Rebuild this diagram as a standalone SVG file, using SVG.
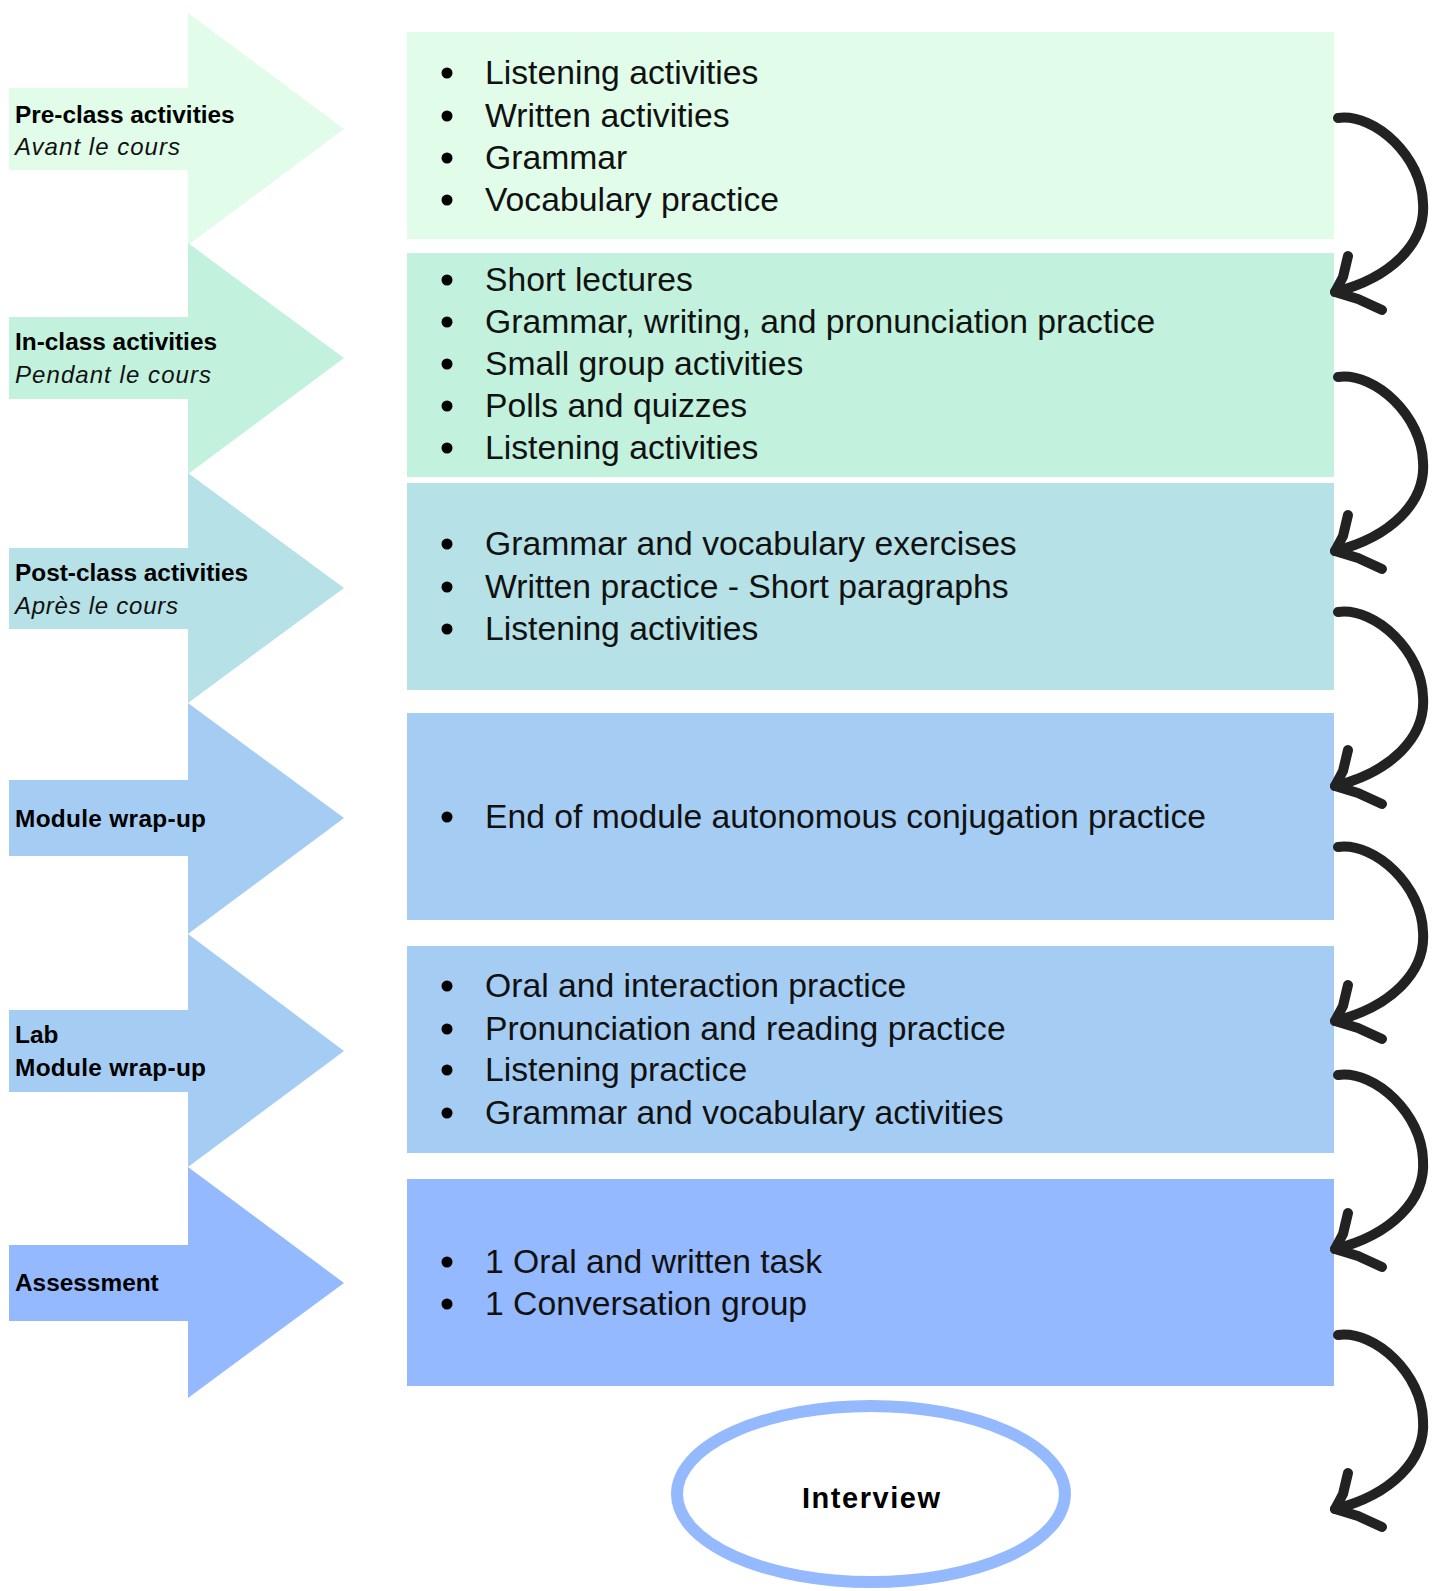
<svg xmlns="http://www.w3.org/2000/svg" width="1436" height="1591" viewBox="0 0 1436 1591">
<defs>
<style>
.item{font-family:"Liberation Sans",Arial,sans-serif;font-size:33.7px;fill:#111111}
.lbl{font-family:"Liberation Sans",Arial,sans-serif;font-size:24.4px;font-weight:bold;fill:#000000}
.sub{font-family:"Liberation Sans",Arial,sans-serif;font-size:24px;font-style:italic;fill:#111111}
.c1{fill:#e1fde9}.c2{fill:#c2f2dd}.c3{fill:#b5e1e7}.c4{fill:#a5cdf4}.c6{fill:#94b9fe}
.curve{fill:none;stroke:#222222;stroke-width:10;stroke-linecap:round;stroke-linejoin:round}
</style>
<g id="curveShape">
<path class="curve" d="M0,0 C38,-5 84,40 85,85 C88,125 53,160 -3,174"/>
<path class="curve" d="M10,138 L5,159 L-3,174 L20,181 L44,192"/>
</g>
</defs>
<rect width="1436" height="1591" fill="#ffffff"/>

<g id="stage1">
<polygon class="c1" points="9,88 188,88 188,13 344,129 188,245 188,170 9,170"/>
<text class="lbl" x="15" y="123">Pre-class activities</text>
<text class="sub" x="15" y="155" textLength="165" lengthAdjust="spacing">Avant le cours</text>
</g>
<g id="stage2">
<polygon class="c2" points="9,317 188,317 188,243 344,358 188,474 188,399 9,399"/>
<text class="lbl" x="15" y="350">In-class activities</text>
<text class="sub" x="15" y="383" textLength="196" lengthAdjust="spacing">Pendant le cours</text>
</g>
<g id="stage3">
<polygon class="c3" points="9,548 188,548 188,473 344,588 188,703 188,629 9,629"/>
<text class="lbl" x="15" y="581">Post-class activities</text>
<text class="sub" x="15" y="614" textLength="163" lengthAdjust="spacing">Après le cours</text>
</g>
<g id="stage4">
<polygon class="c4" points="9,780 188,780 188,703 344,818 188,934 188,856 9,856"/>
<text class="lbl" x="15" y="827" textLength="191" lengthAdjust="spacing">Module wrap-up</text>
</g>
<g id="stage5">
<polygon class="c4" points="9,1010 188,1010 188,934 344,1051 188,1167 188,1092 9,1092"/>
<text class="lbl" x="15" y="1043">Lab</text>
<text class="lbl" x="15" y="1076" textLength="191" lengthAdjust="spacing">Module wrap-up</text>
</g>
<g id="stage6">
<polygon class="c6" points="9,1245 188,1245 188,1167 344,1283 188,1398 188,1321 9,1321"/>
<text class="lbl" x="15" y="1291">Assessment</text>
</g>

<g id="box1">
<rect class="c1" x="407" y="32" width="927" height="207"/>
<circle cx="447" cy="73" r="5.5"/><text class="item" x="485" y="84">Listening activities</text>
<circle cx="447" cy="116" r="5.5"/><text class="item" x="485" y="127">Written activities</text>
<circle cx="447" cy="158" r="5.5"/><text class="item" x="485" y="169">Grammar</text>
<circle cx="447" cy="200" r="5.5"/><text class="item" x="485" y="211">Vocabulary practice</text>
</g>
<g id="box2">
<rect class="c2" x="407" y="253" width="927" height="224"/>
<circle cx="447" cy="280" r="5.5"/><text class="item" x="485" y="291">Short lectures</text>
<circle cx="447" cy="322" r="5.5"/><text class="item" x="485" y="333">Grammar, writing, and pronunciation practice</text>
<circle cx="447" cy="364" r="5.5"/><text class="item" x="485" y="375">Small group activities</text>
<circle cx="447" cy="406" r="5.5"/><text class="item" x="485" y="417">Polls and quizzes</text>
<circle cx="447" cy="448" r="5.5"/><text class="item" x="485" y="459">Listening activities</text>
</g>
<g id="box3">
<rect class="c3" x="407" y="483" width="927" height="207"/>
<circle cx="447" cy="544" r="5.5"/><text class="item" x="485" y="555">Grammar and vocabulary exercises</text>
<circle cx="447" cy="587" r="5.5"/><text class="item" x="485" y="598">Written practice - Short paragraphs</text>
<circle cx="447" cy="629" r="5.5"/><text class="item" x="485" y="640">Listening activities</text>
</g>
<g id="box4">
<rect class="c4" x="407" y="713" width="927" height="207"/>
<circle cx="447" cy="817" r="5.5"/><text class="item" x="485" y="828">End of module autonomous conjugation practice</text>
</g>
<g id="box5">
<rect class="c4" x="407" y="946" width="927" height="207"/>
<circle cx="447" cy="986" r="5.5"/><text class="item" x="485" y="997">Oral and interaction practice</text>
<circle cx="447" cy="1029" r="5.5"/><text class="item" x="485" y="1040">Pronunciation and reading practice</text>
<circle cx="447" cy="1070" r="5.5"/><text class="item" x="485" y="1081">Listening practice</text>
<circle cx="447" cy="1113" r="5.5"/><text class="item" x="485" y="1124">Grammar and vocabulary activities</text>
</g>
<g id="box6">
<rect class="c6" x="407" y="1179" width="927" height="207"/>
<circle cx="447" cy="1262" r="5.5"/><text class="item" x="485" y="1273">1 Oral and written task</text>
<circle cx="447" cy="1304" r="5.5"/><text class="item" x="485" y="1315">1 Conversation group</text>
</g>
<g id="interview">
<ellipse cx="871" cy="1494" rx="194" ry="88" fill="#ffffff" stroke="#94b9fe" stroke-width="12"/>
<text x="871" y="1508" text-anchor="middle" font-family="'Liberation Sans',Arial,sans-serif" font-size="29" font-weight="bold" fill="#000000" textLength="138" lengthAdjust="spacing">Interview</text>
</g>

<g id="connectors">
<use href="#curveShape" transform="translate(1338,118)"/>
<use href="#curveShape" transform="translate(1338,377)"/>
<use href="#curveShape" transform="translate(1338,612)"/>
<use href="#curveShape" transform="translate(1338,847)"/>
<use href="#curveShape" transform="translate(1338,1075)"/>
<use href="#curveShape" transform="translate(1338,1335)"/>
</g>
</svg>
